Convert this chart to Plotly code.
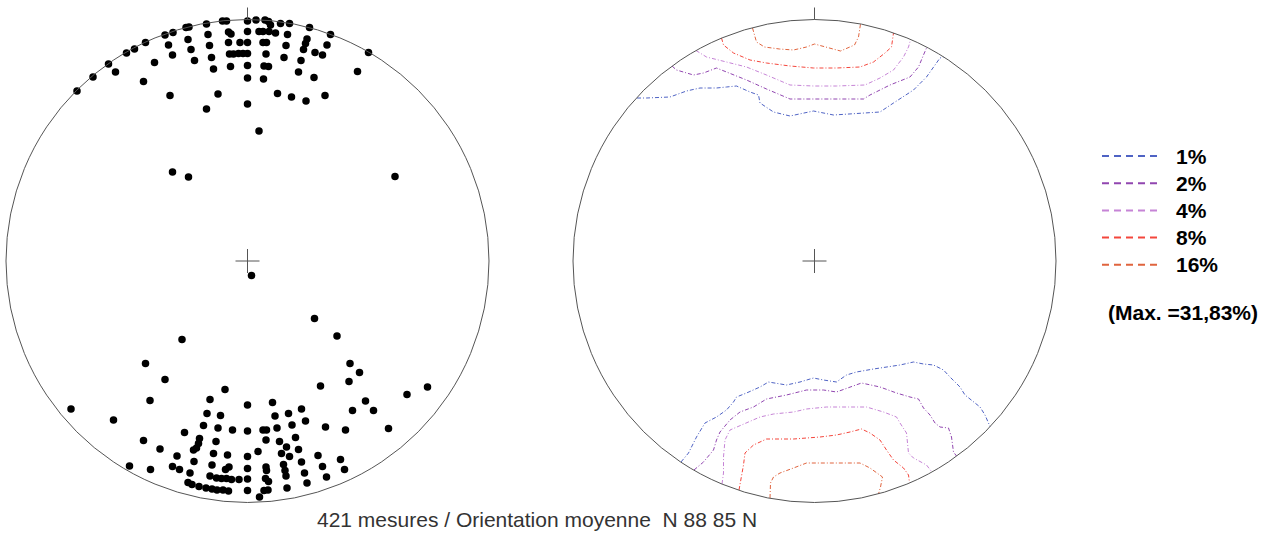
import plotly.graph_objects as go

# ---------------- data (offsets from net centre, net radius = 241.5 units, y up) -------------
NET_R = 241.5

pole_x = [-170.5, -154.5, -139, -132, -121, -113, -102, -93, -104, -82.5, -74.5, -79, -75, -61.5, -58.5,
          -59.5, -56.5, -53, -77.5, -41, -39.5, -38, -36, -34, -29.5, -41, -25, -21, -19, -16.5,
          -19, -7.5, 0, -18, -14, -9, -4.5, 0, -17, 0, 0, 0, 0, 0, 8.5,
          17.5, 21, 23, 11.5, 15.5, 21.5, 28, 15.5, 19, 18.5, 16.5, 21, 16, 11.5, 33,
          42, 40, 38.5, 36.5, 30, 44, 58.5, 51, 53.5, 56, 58, 59.5, 66.5, 67.5, 75,
          77.5, 62, 79.5, 83, 110, 121,
          -75, -59, 147.5, 4, 67, 89.5, -65.5,
          -102, 102.5, 112, -82.5, 101.5, -22.5, 73, 159.5, 180, -97.5, -37.5, 0, 25, 118, 126,
          105, 54, 41, 27.5, -40.5, -27, 58, -176.5, -134, -63, -44, -29.5, -15, 0, 15.5,
          19, 29.5, 44.5, 78, 98, 141, -104, -48, -49, -31.5, 18.5, 32, 48, -87.5, -54,
          -51, -34, -20, 10.5, 34, 39, 42, 51, 70.5, 93, -70.5, 0, -118, -97, -75,
          -68, -53.5, -35.5, -18.5, -22, 0, 18.5, 19, 36, 37.5, 54, 57, 75, 97, -57.5,
          -37.5, -31, -26, -21, -16, -8.5, 0, 18, 21, 38.5, 59.5, 79, -59.5, -55.5, -48.5,
          -41.5, -35.5, -30.5, -24.5, -19, 0, 16.5, 20.5, 39.5, 12]
pole_y = [170, 184, 197, 189, 208, 212, 218.5, 198.5, 179.5, 226, 228.5, 216, 206, 233.5, 234,
          221.5, 211.5, 200.5, 165.5, 237, 226.5, 215.5, 203.5, 192, 167, 152, 240, 240, 229, 227,
          218.5, 218.5, 218.5, 207, 207, 207.5, 207.5, 207.5, 194.5, 240, 229.5, 195.5, 183, 157, 241,
          241, 239.5, 236, 229.5, 229.5, 229.5, 228, 218.5, 218.5, 207, 195, 194.5, 182, 130, 237.5,
          237.5, 226.5, 215.5, 203.5, 167.5, 164, 160, 189, 200.5, 211.5, 217.5, 222, 183.5, 208.5, 206,
          165.5, 233.5, 216, 226.5, 189.5, 208.5,
          89, 84, 84.5, -14.5, -57.5, -75, -78.5,
          -102.5, -102.5, -111.5, -118.5, -120.5, -128.5, -125, -133.5, -126, -139.5, -138.5, -144, -141.5, -140, -149.5,
          -149.5, -148, -152.5, -155, -152.5, -154.5, -160, -148, -159, -171.5, -164.5, -167, -169, -170, -169,
          -169, -167, -164, -166, -169, -167.5, -179.5, -177.5, -182.5, -180.5, -179, -180.5, -176.5, -188, -189,
          -187, -192.5, -194, -190.5, -192.5, -186, -195.5, -188.5, -194.5, -198.5, -195, -195.5, -205, -208.5, -205.5,
          -208.5, -200.5, -204, -206, -208.5, -207.5, -206, -209.5, -203.5, -209.5, -201, -212, -205.5, -208.5, -212,
          -215, -217, -217.5, -217.5, -218.5, -218.5, -218, -217.5, -220.5, -215, -222, -216, -221.5, -223.5, -225.5,
          -227, -228, -229, -229, -230, -229.5, -229.5, -229, -227, -236]

# contour lines of the density net (same units)
c1_top_x = [-177.5, -168, -144.5, -128, -114.5, -98, -88, -78, -64.5, -56, -54.5, -41, -24.5, -1, 19, 35.5, 65.5, 79, 99, 112, 119, 125.5, 129]
c1_top_y = [163, 163, 164, 170, 173, 173, 174, 175, 169, 166, 158, 149, 145, 150, 146, 147, 149, 158, 171, 184, 194, 203, 204]
c2_top_x = [-142.5, -138, -121, -111, -98, -88, -68, -48, -24.5, -1, 25.5, 49, 55.5, 75.5, 95.5, 104, 109, 112]
c2_top_y = [195, 191, 186, 188, 193, 189, 181, 172, 162, 162, 162, 162, 166, 176, 184, 194, 206, 213]
c4_top_x = [-118.5, -108, -88, -68, -48, -24.5, -1, 22, 50.5, 65.5, 79, 89, 94, 96]
c4_top_y = [210.5, 204, 199, 194, 186, 176, 175, 175, 176, 183, 191, 204, 214, 221]
c8_top_x = [-93, -91, -81, -64.5, -48, -24.5, -1, 22, 45.5, 59, 70.5, 77, 79]
c8_top_y = [223, 216, 208, 201, 198, 195, 193, 193, 194, 199, 208, 214, 228]
c16_top_x = [-62, -58, -50, -35, -21, -8, 0, 12, 26, 40, 44, 46]
c16_top_y = [233, 219, 214, 212, 211, 214, 217, 214, 210, 216, 224, 237]

c1_bot_x = [-133.5, -126, -118, -109.5, -98, -88, -81, -78, -68, -54.5, -46, -28, -14.5, -1, 9, 22, 32, 42, 59, 72,
            85.5, 99, 109, 119, 129, 135.5, 145.5, 150.5, 159, 165.5, 170.5, 175.5]
c1_bot_y = [-201, -192, -176, -162, -156, -149, -141, -136, -132, -126, -121, -124, -121, -117, -119, -121, -114, -111, -108, -106,
            -104, -101, -103, -104, -109, -116, -126, -134, -141, -146, -154, -165.5]
c2_bot_x = [-120.5, -111, -101, -98, -94.5, -84.5, -74.5, -61, -48, -28, -8, 9, 22, 35.5, 47, 65.5, 82, 95.5, 104,
            109, 115.5, 120.5, 125.5, 134, 137, 139, 142]
c2_bot_y = [-209, -201, -189, -179, -171, -159, -151, -146, -138, -134, -129, -129, -131, -126, -122, -126, -132, -136, -138,
            -147, -154, -162, -166, -167, -176, -191, -195]
c4_bot_x = [-92.5, -91, -91, -89.5, -84.5, -68, -54.5, -41, -21, -8, 12, 32, 52, 69, 82, 85.5, 92, 94, 99, 112, 117]
c4_bot_y = [-223, -212, -196, -179, -169, -162, -156, -153, -151, -148, -146, -146, -146, -151, -156, -162, -172, -192, -197, -204, -210.5]
c8_bot_x = [-75.5, -73, -71, -69.5, -61, -48, -21, 5.5, 22, 35.5, 47, 55.5, 65.5, 72, 79, 89, 94, 95]
c8_bot_y = [-229, -216, -204, -192, -184, -178, -178, -176, -174, -171, -168, -172, -179, -189, -199, -207, -214, -221.5]
c16_bot_x = [-44.5, -44, -41, -34.5, -21, -8, 12, 32, 45.5, 55.5, 68, 66, 64]
c16_bot_y = [-237, -222, -216, -212, -207, -202, -202, -202, -202, -207, -216, -226, -233]

levels = ["1%", "2%", "4%", "8%", "16%"]
level_colors = ["#4f63c4", "#9146b0", "#c684d6", "#f4463c", "#e0643e"]
max_label = "(Max. =31,83%)"
caption = "421 mesures / Orientation moyenne  N 88 85 N"

# ---------------- figure ----------------
W, H = 1275, 533
fig = go.Figure()

A = 245.0   # half x-range
B = 258.0   # half y-range
left_cx, right_cx, cy = 247.5, 814.5, 261.0


def xdom(cx):
    return [(cx - A) / W, (cx + A) / W]


ydom = [(H - cy - B) / H, (H - cy + B) / H]

fig.add_trace(go.Scatter(x=pole_x, y=pole_y, mode="markers",
                         marker=dict(size=7.5, color="black", line=dict(width=0)),
                         xaxis="x", yaxis="y", showlegend=False, hoverinfo="skip"))

contours = [
    (c1_top_x, c1_top_y, 0), (c2_top_x, c2_top_y, 1), (c4_top_x, c4_top_y, 2),
    (c8_top_x, c8_top_y, 3), (c16_top_x, c16_top_y, 4),
    (c1_bot_x, c1_bot_y, 0), (c2_bot_x, c2_bot_y, 1), (c4_bot_x, c4_bot_y, 2),
    (c8_bot_x, c8_bot_y, 3), (c16_bot_x, c16_bot_y, 4),
]
for cx_, cy_, li in contours:
    fig.add_trace(go.Scatter(x=cx_, y=cy_, mode="lines",
                             line=dict(color=level_colors[li], width=1, dash="4px,2px,1px,2px"),
                             xaxis="x2", yaxis="y2", showlegend=False, hoverinfo="skip"))

axis_common = dict(visible=False, showgrid=False, zeroline=False, fixedrange=True)
fig.update_layout(
    width=W, height=H,
    margin=dict(l=0, r=0, t=0, b=0),
    paper_bgcolor="white", plot_bgcolor="rgba(0,0,0,0)",
    xaxis=dict(domain=xdom(left_cx), range=[-A, A], **axis_common),
    yaxis=dict(domain=ydom, range=[-B, B], **axis_common),
    xaxis2=dict(domain=xdom(right_cx), range=[-A, A], anchor="y2", **axis_common),
    yaxis2=dict(domain=ydom, range=[-B, B], anchor="x2", **axis_common),
    showlegend=False,
)

shapes = []
for xr, yr in (("x", "y"), ("x2", "y2")):
    shapes.append(dict(type="circle", xref=xr, yref=yr, x0=-NET_R, x1=NET_R, y0=-NET_R, y1=NET_R,
                       line=dict(color="#555555", width=1)))
    shapes.append(dict(type="line", xref=xr, yref=yr, x0=0, x1=0, y0=NET_R, y1=NET_R + 12,
                       line=dict(color="#555555", width=1)))
    shapes.append(dict(type="line", xref=xr, yref=yr, x0=-12, x1=12, y0=0, y1=0,
                       line=dict(color="#555555", width=1)))
    shapes.append(dict(type="line", xref=xr, yref=yr, x0=0, x1=0, y0=-12, y1=12,
                       line=dict(color="#555555", width=1)))

annotations = []
leg_y0, leg_dy = 156, 27.2
leg_font = dict(family="Liberation Sans", size=21, color="black", weight="bold")
for i, (lab, col) in enumerate(zip(levels, level_colors)):
    py = leg_y0 + i * leg_dy
    shapes.append(dict(type="line", xref="paper", yref="paper",
                       x0=1102 / W, x1=1159 / W, y0=1 - py / H, y1=1 - py / H,
                       line=dict(color=col, width=2, dash="7px,5px")))
    annotations.append(dict(text=lab, x=1174 / W, y=1 - py / H, xref="paper", yref="paper",
                            xanchor="left", yanchor="middle", showarrow=False, font=leg_font))
annotations.append(dict(text=max_label, x=1183 / W, y=1 - 312 / H, xref="paper", yref="paper",
                        xanchor="center", yanchor="middle", showarrow=False, font=leg_font))
annotations.append(dict(text=caption, x=537 / W, y=1 - 519 / H, xref="paper", yref="paper",
                        xanchor="center", yanchor="middle", showarrow=False,
                        font=dict(family="Liberation Sans", size=21, color="#333333")))

fig.update_layout(shapes=shapes, annotations=annotations)
fig.write_html("out.html", config={"displayModeBar": False},
               post_script="document.body.style.margin='0';document.body.style.overflow='hidden';")
